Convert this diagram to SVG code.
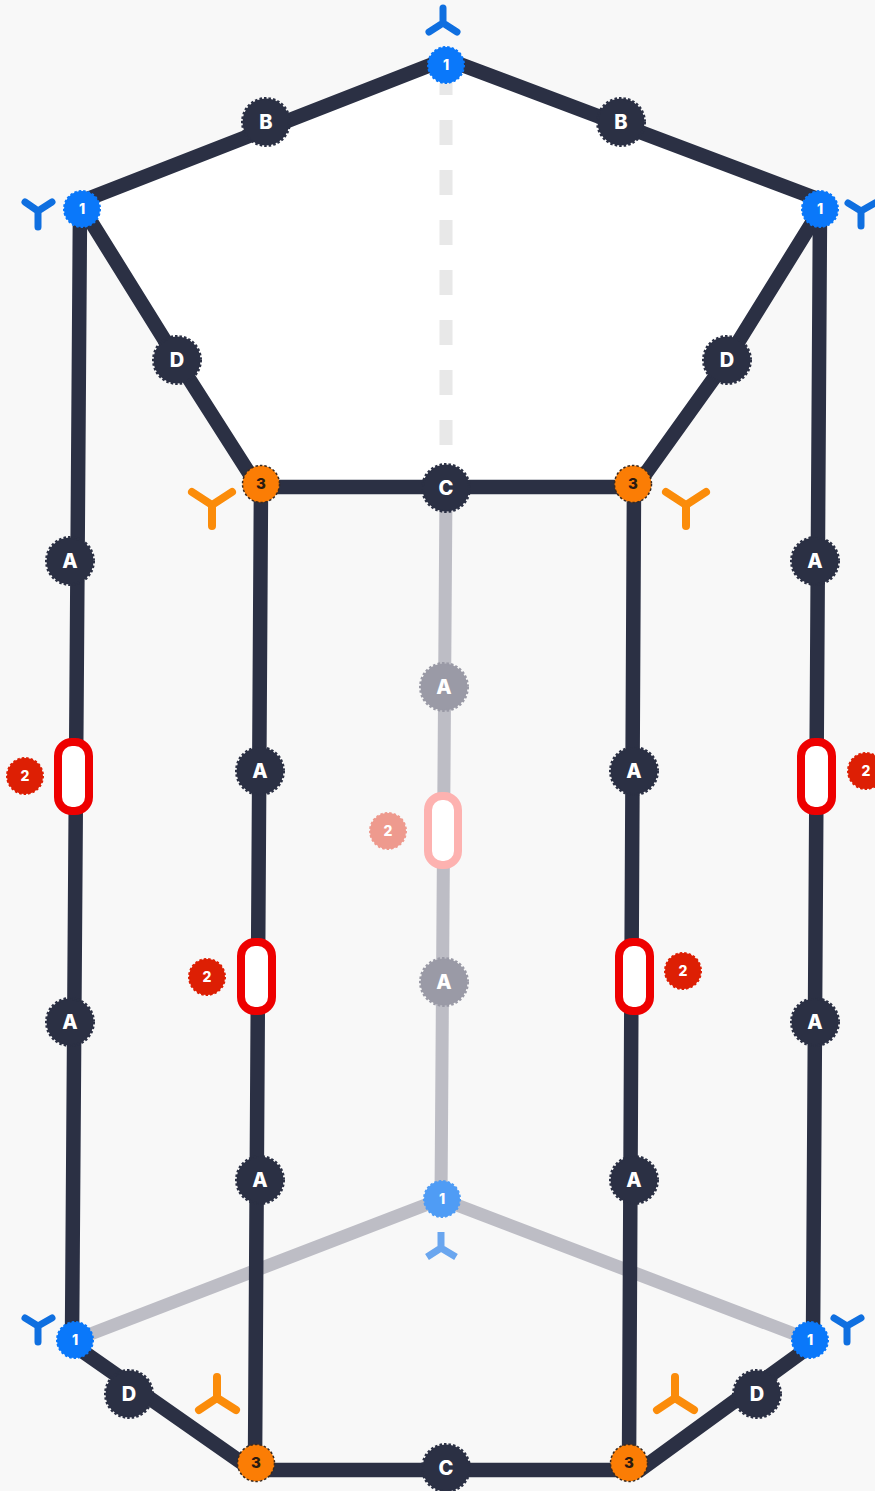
<svg xmlns="http://www.w3.org/2000/svg" width="875" height="1491" viewBox="0 0 875 1491">
<defs>
<style>
.e{fill:none;stroke:#2b3044;stroke-width:14.5}
.f{fill:none;stroke:#bdbdc5;stroke-width:13}
.d{fill:none;stroke:#e8e8e8;stroke-width:13;stroke-dasharray:25 25}
.slot{fill:#fff;stroke:#ee0000;stroke-width:8}
.pale{fill:#fff;stroke:#fdb2b0;stroke-width:8}
.big circle{fill:#2b3044;stroke:#2b3044;stroke-width:3;stroke-dasharray:2.5 2}
.ghost circle{fill:#9a9aa6;stroke:#9a9aa6;stroke-width:3;stroke-dasharray:2.5 2}
.blue circle{fill:#0a78fa;stroke:#0a78fa;stroke-width:2;stroke-dasharray:2.5 2}
.sky circle{fill:#4f9cf5;stroke:#4f9cf5;stroke-width:2;stroke-dasharray:2.5 2}
.or circle{fill:#fb7d05;stroke:#3a2a20;stroke-width:1.5;stroke-dasharray:2.5 2}
.red circle{fill:#dd1f04;stroke:#dd1f04;stroke-width:2;stroke-dasharray:2.5 2}
.pink circle{fill:#ee9a8e;stroke:#ee9a8e;stroke-width:2;stroke-dasharray:2.5 2}
text{font-family:Inter,"Liberation Sans",sans-serif;font-weight:800;text-anchor:middle;fill:#fff}
.big text,.ghost text{font-size:20px}
.blue text,.red text,.sky text,.pink text{font-size:14px}
.or text{font-size:15px;fill:#2b1a10}
.yb{fill:none;stroke:#0f6fe0;stroke-width:7;stroke-linecap:round;stroke-linejoin:round}
.ys{fill:none;stroke:#6aa6ef;stroke-width:7;stroke-linecap:butt;stroke-linejoin:round}
.yo{fill:none;stroke:#fb8c0a;stroke-width:8;stroke-linecap:round;stroke-linejoin:round}
</style>
</defs>
<rect width="875" height="1491" fill="#f8f8f8"/>
<polygon points="446,60 815,198 815,218 727,360 636,487 258,487 177,360 85,212 85,200" fill="#fff"/>
<g id="connectors">
<path class="d" d="M446 70V445"/>
<path class="f" d="M446 488L441 1199M441 1199L75 1340M441 1199L810 1340"/>
<path class="e" d="M85 200L446 59L815 198"/>
<path class="e" d="M85 212L177 360L258 487H636L727 360L815 218"/>
<path class="e" d="M80 209L72 1340M261 484L255 1463M634 484L629 1463M820 209L813 1340"/>
<path class="e" d="M75 1346L245 1465L255 1470H629L640 1470L805 1350"/>
</g>
<g id="slots">
<rect class="slot" x="58" y="742" width="31" height="69" rx="14"/>
<rect class="slot" x="801" y="742" width="31" height="69" rx="14"/>
<rect class="slot" x="241" y="942" width="31" height="69" rx="14"/>
<rect class="slot" x="619" y="942" width="31" height="69" rx="14"/>
<rect class="pale" x="428" y="796" width="30" height="69" rx="14"/>
</g>
<g id="glyphs">
<path class="yb" d="M25 202L38 211L52 202M38 211V227"/>
<path class="yb" d="M848 203L861 211L875 203M861 211V226"/>
<path class="yb" d="M443 8V23M429 32L443 23L457 32"/>
<path class="yo" d="M192 492L212 505L232 492M212 505V526"/>
<path class="yo" d="M666 492L686 505L706 492M686 505V526"/>
<path class="yb" d="M25 1318L38 1326L52 1318M38 1326V1342"/>
<path class="yb" d="M834 1318L847 1326L861 1318M847 1326V1342"/>
<path class="yo" d="M217 1377V1398M199 1410L217 1398L236 1410"/>
<path class="yo" d="M675 1377V1398M657 1410L675 1398L694 1410"/>
<path class="ys" d="M441 1232V1248M427 1257L441 1248L456 1257"/>
</g>
<g id="n1" class="blue"><circle cx="446" cy="65" r="18"/><text x="446" y="70">1</text></g>
<g id="n2" class="blue"><circle cx="82" cy="209" r="18"/><text x="82" y="214">1</text></g>
<g id="n3" class="blue"><circle cx="820" cy="209" r="18"/><text x="820" y="214">1</text></g>
<g id="n4" class="blue"><circle cx="75" cy="1340" r="18"/><text x="75" y="1345">1</text></g>
<g id="n5" class="blue"><circle cx="810" cy="1340" r="18"/><text x="810" y="1345">1</text></g>
<g id="n6" class="sky"><circle cx="442" cy="1199" r="18"/><text x="442" y="1204">1</text></g>
<g id="n7" class="or"><circle cx="261" cy="484" r="18.5"/><text x="261" y="489">3</text></g>
<g id="n8" class="or"><circle cx="633" cy="484" r="18.5"/><text x="633" y="489">3</text></g>
<g id="n9" class="or"><circle cx="256" cy="1463" r="18.5"/><text x="256" y="1468">3</text></g>
<g id="n10" class="or"><circle cx="629" cy="1463" r="18.5"/><text x="629" y="1468">3</text></g>
<g id="n11" class="big"><circle cx="266" cy="122" r="23.5"/><text x="266" y="129">B</text></g>
<g id="n12" class="big"><circle cx="621" cy="122" r="23.5"/><text x="621" y="129">B</text></g>
<g id="n13" class="big"><circle cx="177" cy="360" r="23.5"/><text x="177" y="367">D</text></g>
<g id="n14" class="big"><circle cx="727" cy="360" r="23.5"/><text x="727" y="367">D</text></g>
<g id="n15" class="big"><circle cx="446" cy="488" r="23.5"/><text x="446" y="495">C</text></g>
<g id="n16" class="big"><circle cx="129" cy="1394" r="23.5"/><text x="129" y="1401">D</text></g>
<g id="n17" class="big"><circle cx="757" cy="1394" r="23.5"/><text x="757" y="1401">D</text></g>
<g id="n18" class="big"><circle cx="446" cy="1468" r="23.5"/><text x="446" y="1475">C</text></g>
<g id="n19" class="big"><circle cx="70" cy="561" r="23.5"/><text x="70" y="568">A</text></g>
<g id="n20" class="big"><circle cx="70" cy="1022" r="23.5"/><text x="70" y="1029">A</text></g>
<g id="n21" class="big"><circle cx="815" cy="561" r="23.5"/><text x="815" y="568">A</text></g>
<g id="n22" class="big"><circle cx="815" cy="1022" r="23.5"/><text x="815" y="1029">A</text></g>
<g id="n23" class="big"><circle cx="260" cy="771" r="23.5"/><text x="260" y="778">A</text></g>
<g id="n24" class="big"><circle cx="260" cy="1180" r="23.5"/><text x="260" y="1187">A</text></g>
<g id="n25" class="big"><circle cx="634" cy="771" r="23.5"/><text x="634" y="778">A</text></g>
<g id="n26" class="big"><circle cx="634" cy="1180" r="23.5"/><text x="634" y="1187">A</text></g>
<g id="n27" class="ghost"><circle cx="444" cy="687" r="23.5"/><text x="444" y="694">A</text></g>
<g id="n28" class="ghost"><circle cx="444" cy="982" r="23.5"/><text x="444" y="989">A</text></g>
<g id="n29" class="red"><circle cx="25" cy="776" r="18"/><text x="25" y="781">2</text></g>
<g id="n30" class="red"><circle cx="866" cy="771" r="18"/><text x="866" y="776">2</text></g>
<g id="n31" class="red"><circle cx="207" cy="977" r="18"/><text x="207" y="982">2</text></g>
<g id="n32" class="red"><circle cx="683" cy="971" r="18"/><text x="683" y="976">2</text></g>
<g id="n33" class="pink"><circle cx="388" cy="831" r="18"/><text x="388" y="836">2</text></g>
</svg>
